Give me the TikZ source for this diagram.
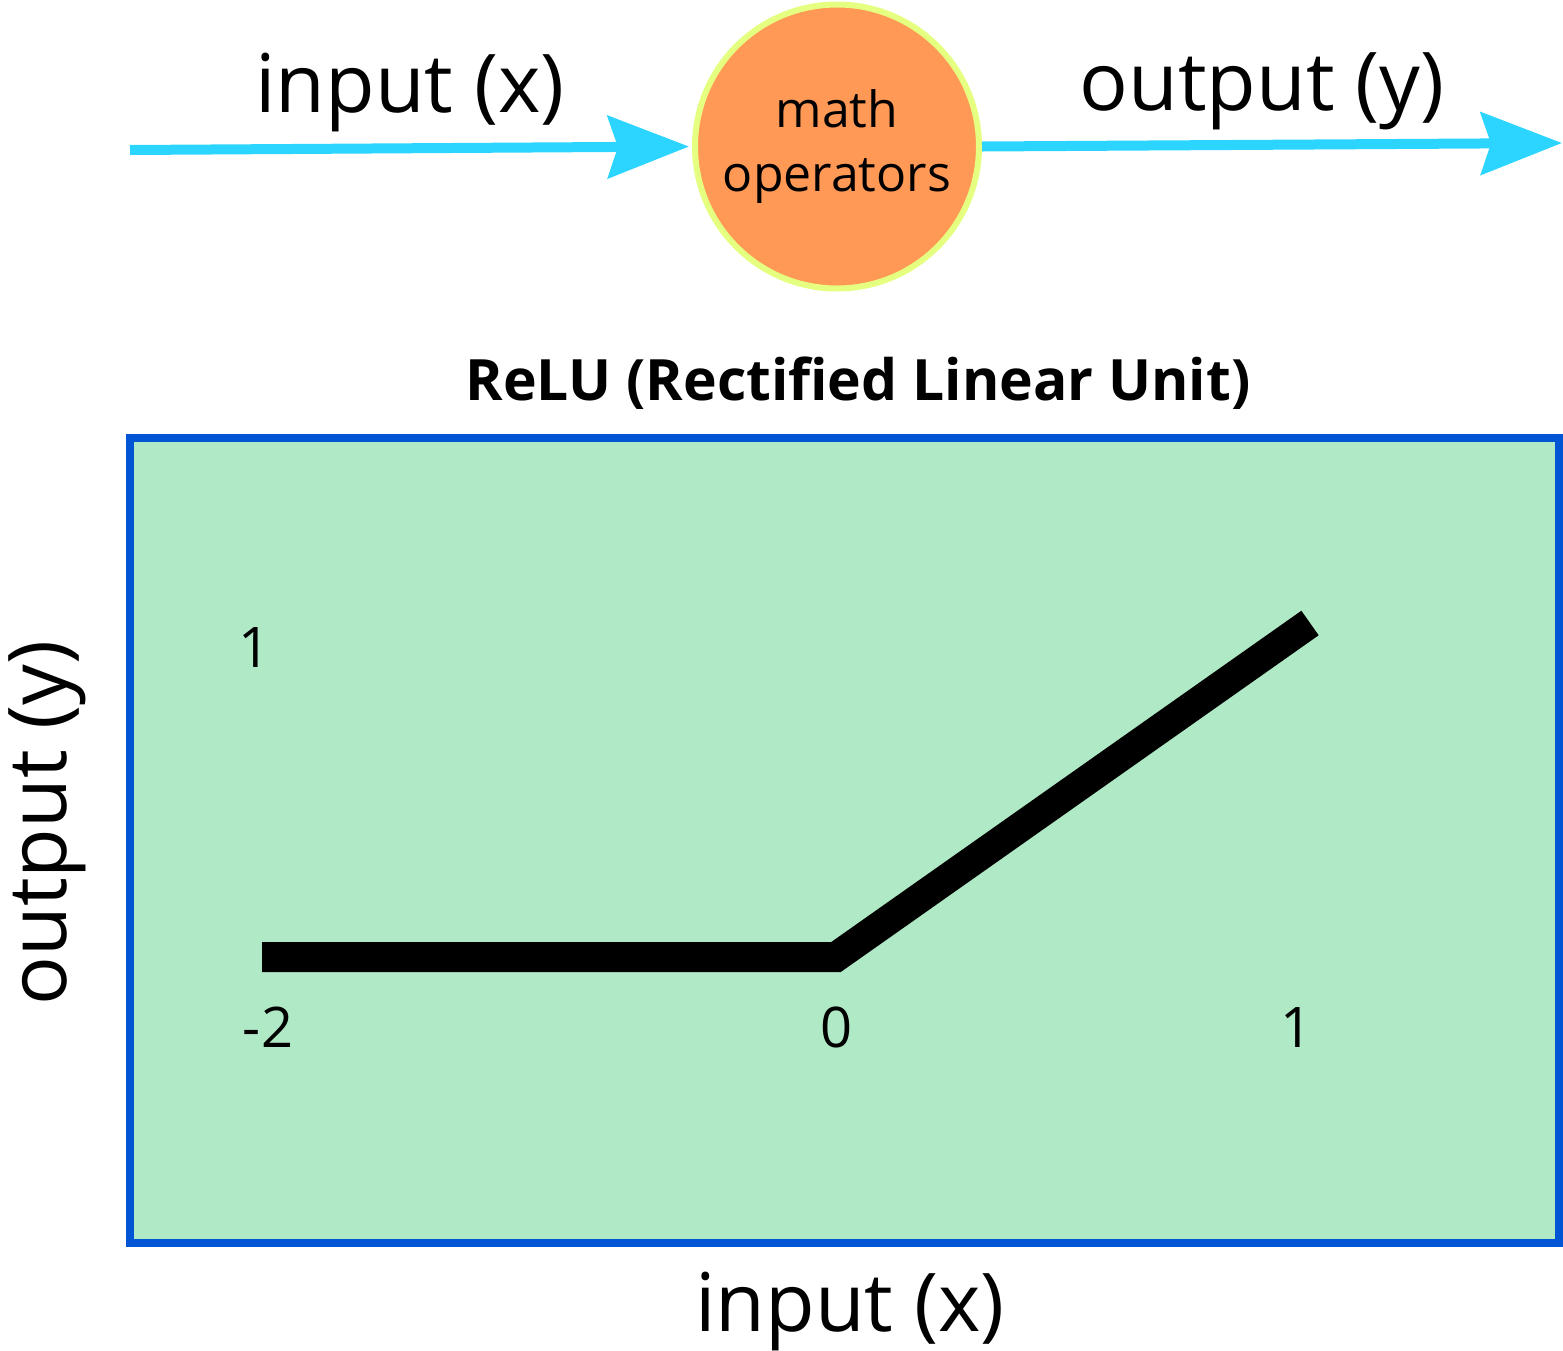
\documentclass[tikz,border=0pt]{standalone}
\usepackage{fontspec}
\setmainfont{Open Sans}
\usetikzlibrary{arrows.meta}
\definecolor{arrowc}{HTML}{2CD5FF}
\definecolor{opfill}{HTML}{FF9955}
\definecolor{opborder}{HTML}{E5FF80}
\definecolor{boxborder}{HTML}{0055D4}
\definecolor{boxfill}{HTML}{AFE9C6}
\tikzset{
  flow/.style={draw=arrowc, line width=10pt,
    -{Stealth[length=81pt,width=62pt,inset=10pt]}},
  bigtext/.style={font=\fontsize{81}{90}\selectfont, anchor=base, inner sep=0pt},
  ticktext/.style={font=\fontsize{56}{64}\selectfont, anchor=base, inner sep=0pt},
  opnode/.style={circle, fill=opfill, draw=opborder, line width=6pt,
    minimum size=284pt, inner sep=0pt, align=center,
    font=\fontsize{50}{64}\selectfont},
}
\begin{document}
\begin{tikzpicture}[x=1pt,y=-1pt]
\useasboundingbox (0,0) rectangle (1563,1350);
% top flow
\node[opnode] (op) at (837,146.5) {math\\operators};
\coordinate (in) at (130,150);
\coordinate (out) at (1562,143);
\draw[flow, shorten >=3pt] (in) -- (op.west);
\draw[flow] (op.east) -- (out);
\node[bigtext] (inlbl) at (410,112) {input (x)};
\node[bigtext] (outlbl) at (1262,110) {output (y)};
% title
\node[font=\bfseries\fontsize{57}{66}\selectfont, anchor=base, inner sep=0pt] (title) at (858,400) {ReLU (Rectified Linear Unit)};
% plot box
\node[draw=boxborder, fill=boxfill, line width=8pt, minimum width=1429pt, minimum height=805pt, inner sep=0pt] (box) at (844.5,840.5) {};
\coordinate (p0) at (262,957);
\coordinate (p1) at (836,957);
\coordinate (p2) at (1310,623);
\draw[line width=30pt, miter limit=10] (p0) -- (p1) -- (p2);
% tick labels
\node[ticktext] (y1) at (255,667) {1};
\node[ticktext] (xm2) at (268,1047) {-2};
\node[ticktext] (x0) at (836,1047) {0};
\node[ticktext] (x1) at (1296,1047) {1};
% axis labels
\node[bigtext] (xlbl) at (850,1331) {input (x)};
\node[bigtext, rotate=90] (ylbl) at (66,823) {output (y)};
\end{tikzpicture}
\end{document}
